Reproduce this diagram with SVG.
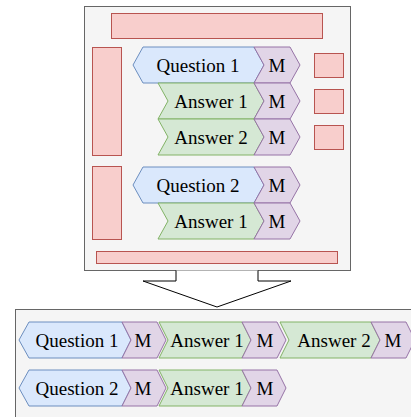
<svg xmlns="http://www.w3.org/2000/svg" width="411" height="417" viewBox="0 0 411 417">
<style>
.cont{fill:#f5f5f5;stroke:#666666;stroke-width:1}
.red{fill:#f8cecc;stroke:#b85450;stroke-width:1}
.q{fill:#dae8fc;stroke:#6c8ebf;stroke-width:1}
.a{fill:#d5e8d4;stroke:#82b366;stroke-width:1}
.m{fill:#e1d5e7;stroke:#9673a6;stroke-width:1}
text{font-family:"Liberation Serif","Times New Roman",serif;font-size:19px;fill:#000;text-anchor:middle}
</style>
<rect width="411" height="417" fill="#ffffff"/>
<g id="top-container">
<rect class="cont" x="84.5" y="6.5" width="266" height="264"/>
</g>
<g id="placeholders">
<rect class="red" x="111.5" y="13.5" width="211" height="25"/>
<rect class="red" x="92.5" y="47.5" width="29" height="108"/>
<rect class="red" x="92.5" y="166.5" width="29" height="73"/>
<rect class="red" x="96.5" y="251.5" width="241" height="12"/>
<rect class="red" x="314.5" y="53.5" width="29" height="24"/>
<rect class="red" x="314.5" y="89.5" width="29" height="24"/>
<rect class="red" x="314.5" y="125.5" width="29" height="24"/>
</g>
<g id="top-q1">
<polygon class="q" points="133,65 143,47 254,47 264,65 254,83 143,83"/>
<text x="198" y="71.5">Question 1</text>
</g>
<g id="top-q1-m">
<polygon class="m" points="254,47 290,47 300,65 290,83 254,83 264,65"/>
<text x="277" y="71.5">M</text>
</g>
<g id="top-a1">
<polygon class="a" points="158,83 254,83 264,101 254,119 158,119 168,101"/>
<text x="211" y="107.5">Answer 1</text>
</g>
<g id="top-a1-m">
<polygon class="m" points="254,83 290,83 300,101 290,119 254,119 264,101"/>
<text x="277" y="107.5">M</text>
</g>
<g id="top-a2">
<polygon class="a" points="158,119 254,119 264,137 254,155 158,155 168,137"/>
<text x="211" y="143.5">Answer 2</text>
</g>
<g id="top-a2-m">
<polygon class="m" points="254,119 290,119 300,137 290,155 254,155 264,137"/>
<text x="277" y="143.5">M</text>
</g>
<g id="top-q2">
<polygon class="q" points="133,185 143,167 254,167 264,185 254,203 143,203"/>
<text x="198" y="191.5">Question 2</text>
</g>
<g id="top-q2-m">
<polygon class="m" points="254,167 290,167 300,185 290,203 254,203 264,185"/>
<text x="277" y="191.5">M</text>
</g>
<g id="top-q2-a1">
<polygon class="a" points="158,203 254,203 264,221 254,239 158,239 168,221"/>
<text x="211" y="227.5">Answer 1</text>
</g>
<g id="top-q2-a1-m">
<polygon class="m" points="254,203 290,203 300,221 290,239 254,239 264,221"/>
<text x="277" y="227.5">M</text>
</g>
<g id="connectors">
<path d="M176,270.5 L176,281 L143,281 L217,307 L291,281 L258,281 L258,270.5" fill="#ffffff" stroke="#000000" stroke-width="1"/>
</g>
<g id="bottom-container">
<rect class="cont" x="15.5" y="309.5" width="410" height="120"/>
</g>
<g id="bot-q1">
<polygon class="q" points="19,340 29,322 122,322 131,340 122,358 29,358"/>
<text x="77" y="346.5">Question 1</text>
</g>
<g id="bot-q1-m">
<polygon class="m" points="122,322 157,322 166,340 157,358 122,358 131,340"/>
<text x="143" y="346.5">M</text>
</g>
<g id="bot-a1">
<polygon class="a" points="159,322 242,322 251,340 242,358 159,358 168,340"/>
<text x="207" y="346.5">Answer 1</text>
</g>
<g id="bot-a1-m">
<polygon class="m" points="242,322 277,322 286,340 277,358 242,358 251,340"/>
<text x="265" y="346.5">M</text>
</g>
<g id="bot-a2">
<polygon class="a" points="280,322 371,322 380,340 371,358 280,358 289,340"/>
<text x="334" y="346.5">Answer 2</text>
</g>
<g id="bot-a2-m">
<polygon class="m" points="371,322 406,322 415,340 406,358 371,358 380,340"/>
<text x="393" y="346.5">M</text>
</g>
<g id="bot-q2">
<polygon class="q" points="19,388 29,370 122,370 131,388 122,406 29,406"/>
<text x="77" y="394.5">Question 2</text>
</g>
<g id="bot-q2-m">
<polygon class="m" points="122,370 157,370 166,388 157,406 122,406 131,388"/>
<text x="143" y="394.5">M</text>
</g>
<g id="bot-q2-a1">
<polygon class="a" points="159,370 242,370 251,388 242,406 159,406 168,388"/>
<text x="207" y="394.5">Answer 1</text>
</g>
<g id="bot-q2-a1-m">
<polygon class="m" points="242,370 277,370 286,388 277,406 242,406 251,388"/>
<text x="265" y="394.5">M</text>
</g>
</svg>
